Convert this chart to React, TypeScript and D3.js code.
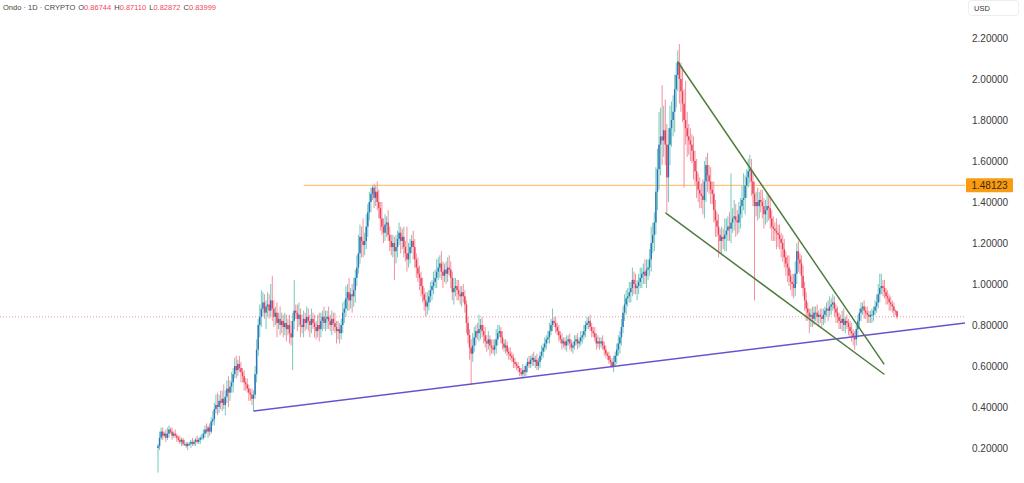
import React from "react";
import * as d3 from "d3";

// Daily closes in US cents (Ondo, 1D)
const firstOpen = 20;
const closes = [
  21,25,28,26,27,25,27,29,28,26,
  27,26,25,24,23,24,22,22,21,22,
  22,23,22,23,24,23,24,25,25,27,
  29,28,30,28,33,34,39,41,40,43,
  42,44,41,45,49,47,50,52,56,60,
  58,61,59,57,55,52,51,49,47,46,
  44,46,56,68,80,84,88,91,86,89,
  90,87,92,88,84,86,81,83,80,82,
  79,81,78,80,76,74,82,87,86,83,
  85,80,79,83,81,84,82,80,83,81,
  79,77,80,78,82,84,81,83,84,82,
  80,83,81,79,77,78,76,80,86,88,
  93,96,92,95,94,97,103,108,115,123,
  121,119,121,128,135,140,144,147,142,145,
  140,137,132,128,125,129,130,124,121,118,
  120,116,118,122,125,121,123,118,115,112,
  115,118,121,118,112,108,105,103,99,95,
  92,89,91,94,97,99,101,103,106,108,
  110,106,104,107,105,108,107,103,96,98,
  99,97,95,94,96,94,90,81,75,69,
  66,70,74,77,76,78,80,77,75,72,
  71,73,70,69,68,70,73,76,77,74,
  71,69,70,67,66,65,64,62,61,60,
  59,57,56,58,57,60,62,61,63,64,
  62,63,60,62,65,67,69,71,73,74,
  77,80,82,81,79,77,75,73,71,72,
  70,72,73,71,69,70,72,73,71,72,
  74,75,77,80,81,82,79,77,76,74,
  71,72,71,72,70,68,66,65,63,62,
  60,62,65,68,71,74,79,86,90,93,
  94,96,98,102,100,98,99,101,103,105,
  106,104,107,108,112,120,124,130,145,156,
  168,172,170,175,168,152,168,176,180,184,
  195,202,208,200,194,188,180,176,172,170,
  168,165,160,155,150,146,144,143,141,150,
  158,153,150,146,144,136,131,128,124,121,
  123,122,124,126,128,127,130,132,133,131,
  130,134,138,141,142,148,152,155,156,150,
  144,138,140,138,141,140,138,134,136,138,
  137,132,128,127,126,125,124,122,120,117,
  113,110,108,104,101,100,98,105,116,112,
  110,104,98,92,88,86,84,85,83,86,
  86,84,85,84,83,85,87,88,87,89,
  90,91,88,86,84,82,81,83,80,82,
  81,79,77,76,74,73,78,82,86,88,
  89,87,86,85,84,85,85,87,89,91,
  95,98,99,98,96,94,93,91,90,89,
  87,86.744,83.999,
];

// Wick length above the body top, cents
const upperWicks = [
  1,3,2,2,1,2,3,2,1,2,
  1,2,1,1,2,1,1,2,1,1,
  1,1,2,1,1,2,1,1,2,2,
  2,3,1,2,2,4,3,5,6,3,
  5,4,7,3,4,6,3,5,3,4,
  5,2,4,3,2,3,2,3,2,2,
  3,2,4,5,3,6,9,5,4,3,
  6,5,8,12,4,3,5,3,6,4,
  3,5,4,3,5,6,4,15,3,4,
  6,3,5,4,3,5,4,3,5,3,
  4,3,5,6,4,3,5,4,3,5,
  3,4,3,5,3,4,3,3,5,4,
  6,4,7,3,5,6,4,6,9,6,
  5,11,4,6,4,5,3,1.1,2,3,
  5,6,3,8,4,5,3,6,4,3,
  4,3,6,4,5,3,4,5,3,13,
  5,4,3,5,4,3,5,4,3,4,
  3,4,5,3,4,3,5,4,6,5,
  4,6,5,3,4,5,6,4,3,5,
  4,3,5,4,3,4,3,2,3,3,
  4,6,5,3,4,7,3,4,3,4,
  3,4,2,3,4,3,5,4,3,2,
  3,2,3,2,2,3,2,2,2,1,
  2,1,2,3,2,1,2,3,2,2,
  3,2,3,2,2,3,2,3,2,3,
  4,3,6,2,3,2,3,2,3,2,
  2,3,2,3,2,2,3,2,3,2,
  3,2,3,2,3,2,3,2,2,3,
  2,3,2,2,3,2,2,1,2,2,
  2,3,2,3,4,3,4,3,5,4,
  4,5,3,6,4,5,3,4,5,3,
  4,6,5,4,5,8,6,5,12,10,
  16,14,25,12,15,10,8,11,9,8,
  7,6,6,9,8,12,7,19,8,6,
  6,5,7,5,6,4,6,5,8,10,
  4,6,5,7,4,6,5,4,6,3,
  5,4,8,6,5,7,24,5,8,6,
  5,6,4,7,12,5,4,6,7,5,
  4,6,5,7,4,5,6,4,5,6,
  5,6,4,5,3,6,4,5,3,4,
  5,3,4,6,3,4,5,6,4,5,
  3,4,5,3,4,3,2,3,4,3,
  3,4,2,3,4,3,2,3,4,5,
  3,4,3,2,3,2,3,4,5,2,
  3,2,3,4,2,3,2,3,2,3,
  2,3,2,3,2,2,3,2,3,4,
  5,7,6,3,4,2,3,2,3,2,
  2,0.6,0.366,
];

// Wick length below the body bottom, cents
const lowerWicks = [
  12,2,1,2,1,2,1,2,1,2,
  1,1,2,1,1,2,1,1,1,2,
  1,2,1,1,2,1,1,2,1,1,
  2,1,3,2,1,2,3,2,4,3,
  3,4,2,5,3,7,4,3,5,2,
  4,3,2,5,3,4,3,2,4,3,
  3,6,2,4,3,6,5,4,3,8,
  5,4,3,6,5,4,7,3,5,4,
  5,4,6,3,5,4,16,4,3,6,
  4,6,3,5,4,3,5,6,4,3,
  5,4,3,6,4,5,3,4,5,4,
  3,5,4,3,6,4,5,3,4,5,
  4,6,5,4,8,5,6,4,3,5,
  8,6,5,4,5,4,5,3,5,4,
  4,5,6,4,5,4,6,3,5,4,
  5,14,6,5,3,6,4,5,4,6,
  4,5,3,6,4,5,4,6,5,4,
  5,5,4,4,3,5,4,3,5,4,
  5,4,6,3,5,4,3,5,4,6,
  4,5,3,4,5,3,4,5,4,6,
  15,4,3,4,3,4,5,3,4,3,
  4,3,5,3,2,3,4,3,2,3,
  3,2,3,2,3,2,2,3,2,2,
  2,2,1,2,2,2,3,2,2,3,
  2,3,2,2,3,2,3,2,3,2,
  3,2,3,2,3,2,3,2,3,2,
  2,3,2,3,2,3,2,2,3,2,
  2,3,2,3,2,3,2,3,2,2,
  3,2,3,2,2,3,2,2,2,2,
  1,3,2,4,3,5,4,3,4,5,
  4,3,5,4,5,3,6,4,3,5,
  5,4,6,5,4,6,5,8,6,9,
  10,15,12,8,10,17,12,10,9,8,
  10,9,8,12,10,9,33,8,10,7,
  8,6,9,7,8,6,7,6,7,9,
  10,8,6,7,5,6,8,5,11,6,
  7,5,6,8,5,6,7,5,6,8,
  6,5,7,6,5,8,6,5,6,7,
  6,46,5,7,6,5,6,7,5,6,
  6,5,7,6,5,8,6,5,7,6,
  5,6,7,5,4,6,5,4,5,6,
  5,6,4,5,6,4,8,5,4,3,
  4,3,5,3,4,3,4,3,5,3,
  4,3,4,5,3,4,3,4,3,4,
  3,4,3,4,4,5,3,4,3,4,
  3,4,3,4,3,3,4,3,2,3,
  3,4,3,4,3,4,3,4,3,3,
  3,2,1.127,
];

const yTicks = [0.2, 0.4, 0.6, 0.8, 1.0, 1.2, 1.4, 1.6, 1.8, 2.0, 2.2];
const headerTitle = "Ondo · 1D · CRYPTO";
const headerOHLC = [
  { k: "O", v: "0.86744" },
  { k: "H", v: "0.87110" },
  { k: "L", v: "0.82872" },
  { k: "C", v: "0.83999" },
];
const resistanceLevel = 1.48123;
const resistanceStart = 93;
const lastClose = 0.83999;
// trendlines: [startIndex, startPrice, endIndex, endPrice]
const supportLine = [61, 0.38, 515.3, 0.81];
const wedgeUpper = [332, 2.083, 463.6, 0.61];
const wedgeLower = [324.4, 1.346, 463.6, 0.561];

const UP_BODY = "#2a74c0";
const UP_WICK = "#74c9bb";
const DN_BODY = "#ec3f56";
const DN_WICK = "#f4909d";
const FONT = "'Liberation Sans', Arial, sans-serif";

export default function App() {
  const W = 1024, H = 483;
  const plotRight = 965;
  const x = d3.scaleLinear().domain([0, closes.length - 1]).range([158, 897]);
  const y = d3.scaleLinear().domain([0.2, 2.2]).range([448, 38]);
  const ySupport = d3.scaleLinear().domain([supportLine[0], supportLine[2]]).range([supportLine[1], supportLine[3]]);

  const candles = closes.map((c, i) => {
    const o = i === 0 ? firstOpen : closes[i - 1];
    const top = Math.max(o, c), bot = Math.min(o, c);
    return { i, o: o / 100, c: c / 100, h: (top + upperWicks[i]) / 100, l: (bot - lowerWicks[i]) / 100 };
  });

  const line = (seg: number[], key: string, color: string, w: number) => (
    <line key={key} x1={x(seg[0])} y1={y(seg[1])} x2={x(seg[2])} y2={y(seg[3])}
      stroke={color} strokeWidth={w} strokeLinecap="round" />
  );

  const endIdx = x.invert(plotRight);

  return (
    <svg width={W} height={H} style={{ position: "fixed", left: 0, top: 0, background: "#fff" }}>
      {/* last price dotted line */}
      <line x1={0} x2={plotRight} y1={y(lastClose)} y2={y(lastClose)} stroke="#f39aa4" strokeWidth={1} strokeDasharray="1,2" />
      {/* resistance */}
      <line x1={x(resistanceStart)} x2={plotRight} y1={y(resistanceLevel)} y2={y(resistanceLevel)} stroke="#ffc27a" strokeWidth={1.2} />
      {/* candles */}
      <g>
        {candles.map((d) => {
          const up = d.c >= d.o;
          const cx = x(d.i);
          const yt = y(Math.max(d.o, d.c)), yb = y(Math.min(d.o, d.c));
          return (
            <g key={d.i}>
              <line x1={cx} x2={cx} y1={y(d.h)} y2={y(d.l)} stroke={up ? UP_WICK : DN_WICK} strokeWidth={1} />
              <rect x={cx - 0.75} width={1.5} y={yt} height={Math.max(0.8, yb - yt)} fill={up ? UP_BODY : DN_BODY} />
            </g>
          );
        })}
      </g>
      {/* trendlines */}
      <line x1={x(supportLine[0])} y1={y(supportLine[1])} x2={x(endIdx)} y2={y(ySupport(endIdx))} stroke="#6b52cc" strokeWidth={1.5} />
      {line(wedgeUpper, "wu", "#4e7d3e", 1.5)}
      {line(wedgeLower, "wl", "#4e7d3e", 1.5)}
      {/* y axis */}
      <g fontFamily={FONT} fontSize={10} fill="#3a3a3a">
        {yTicks.map((t) => (
          <text key={t} x={972} y={y(t)} dy="0.35em">{t.toFixed(5)}</text>
        ))}
      </g>
      <rect x={966} y={y(resistanceLevel) - 7} width={47} height={14} fill="#f99c12" rx={1} />
      <text x={989.5} y={y(resistanceLevel)} dy="0.36em" textAnchor="middle" fontFamily={FONT} fontSize={10} fill="#3a2a10">
        {resistanceLevel.toFixed(5)}
      </text>
      <rect x={968.5} y={0.5} width={50} height={15} fill="#fff" stroke="#eeeeee" rx={3} />
      <text x={974} y={10.5} fontFamily={FONT} fontSize={7.5} fill="#333">USD</text>
      {/* header */}
      <text x={3} y={9.5} fontFamily={FONT} fontSize={7.5} fill="#444">
        <tspan>{headerTitle}</tspan>
        {headerOHLC.map((p) => (
          <React.Fragment key={p.k}>
            <tspan dx={3} fill="#444">{p.k}</tspan>
            <tspan fill="#f0485c">{p.v}</tspan>
          </React.Fragment>
        ))}
      </text>
    </svg>
  );
}
